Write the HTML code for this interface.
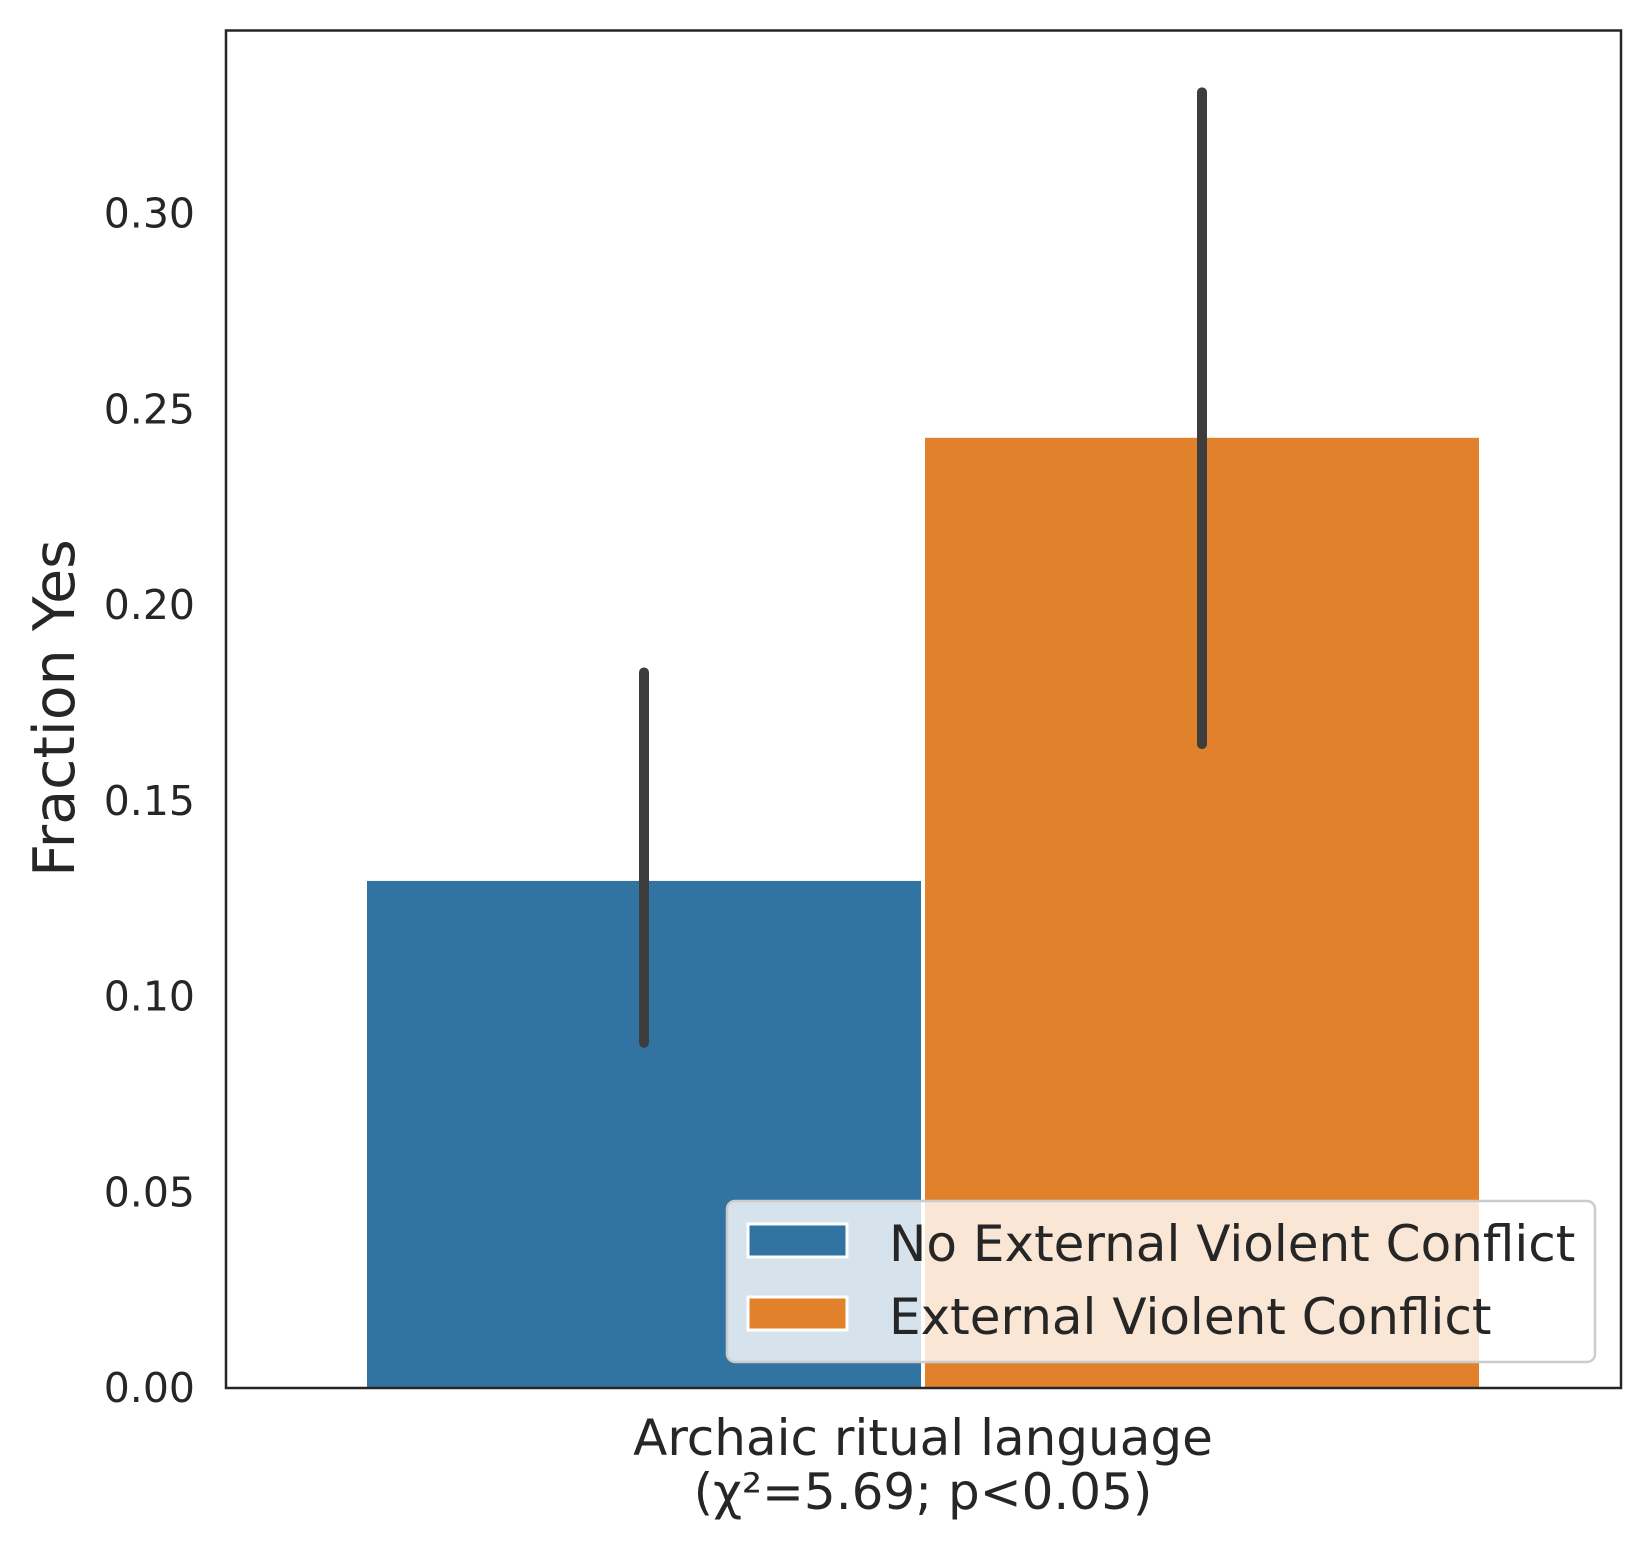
<!DOCTYPE html>
<html><head><meta charset="utf-8"><style>
html,body{margin:0;padding:0;background:#fff;}
svg text{font-family:"DejaVu Sans","Liberation Sans",sans-serif;fill:#262626;}
</style></head><body>
<svg id="chart" width="1650" height="1551" xmlns="http://www.w3.org/2000/svg">
<g id="marks"></g>
<g id="axes"></g>
</svg>
<script>
const categories = ["No External Violent Conflict", "External Violent Conflict"];
const values = [0.1298, 0.243];
const ciLow = [0.0882, 0.1645];
const ciHigh = [0.1828, 0.331];
const colors = ["#3274a1", "#e1812c"];
const yTicks = [0, 0.05, 0.10, 0.15, 0.20, 0.25, 0.30];
const yTickLabels = ["0.00","0.05","0.10","0.15","0.20","0.25","0.30"];

const L=226,R=1621,T=30.5,B=1388,yMax=0.3468;
const y=v=>B-(v/yMax)*(B-T);
const barLeft=366, barW=556;
const x=i=>barLeft+i*(barW+2);
const NS="http://www.w3.org/2000/svg";
function mk(tag,attrs,parent){const e=document.createElementNS(NS,tag);for(const k in attrs)e.setAttribute(k,attrs[k]);parent.appendChild(e);return e;}
const marks=document.getElementById('marks'), axes=document.getElementById('axes');
values.forEach((v,i)=>{
  const r=mk('rect',{x:x(i),y:y(v),width:barW,height:B-y(v),fill:colors[i],stroke:'#fff','stroke-width':2},marks);
  
  
});
values.forEach((v,i)=>{
  const cx=x(i)+barW/2;
  const e=mk('line',{x1:cx,x2:cx,y1:y(ciLow[i]),y2:y(ciHigh[i]),stroke:'#3d3d3d','stroke-width':10,'stroke-linecap':'round'},marks);
  
  
});
const frame=mk('rect',{x:L,y:T,width:R-L,height:B-T,fill:'none',stroke:'#262626','stroke-width':2.5},axes);


yTicks.forEach((t,i)=>{
  const tx=mk('text',{x:195,y:y(t)+14,'font-size':41,'text-anchor':'end'},axes);
  tx.textContent=yTickLabels[i];
  
  
});
const yl=mk('text',{x:0,y:0,'font-size':57,'text-anchor':'middle',transform:'translate(74,708) rotate(-90)'},axes);
yl.textContent='Fraction Yes';


const x1=mk('text',{x:923,y:1455,'font-size':50,'text-anchor':'middle'},axes);
x1.textContent='Archaic ritual language';


const x2=mk('text',{x:923,y:1509,'font-size':50,'text-anchor':'middle'},axes);
x2.textContent='(χ²=5.69; p<0.05)';


const lg=mk('g',{},axes);


mk('rect',{x:727,y:1201,width:868,height:161,rx:8,fill:'#fff','fill-opacity':0.8,stroke:'#cccccc','stroke-width':2.5},lg);
categories.forEach((c,i)=>{
  const py=1224+i*73;
  const p=mk('rect',{x:748,y:py,width:99,height:33,fill:colors[i],stroke:'#fff','stroke-width':3},lg);
  
  
  const t=mk('text',{x:889,y:py+37,'font-size':50},lg);
  t.textContent=c;
  
  
});
</script>
</body></html>
